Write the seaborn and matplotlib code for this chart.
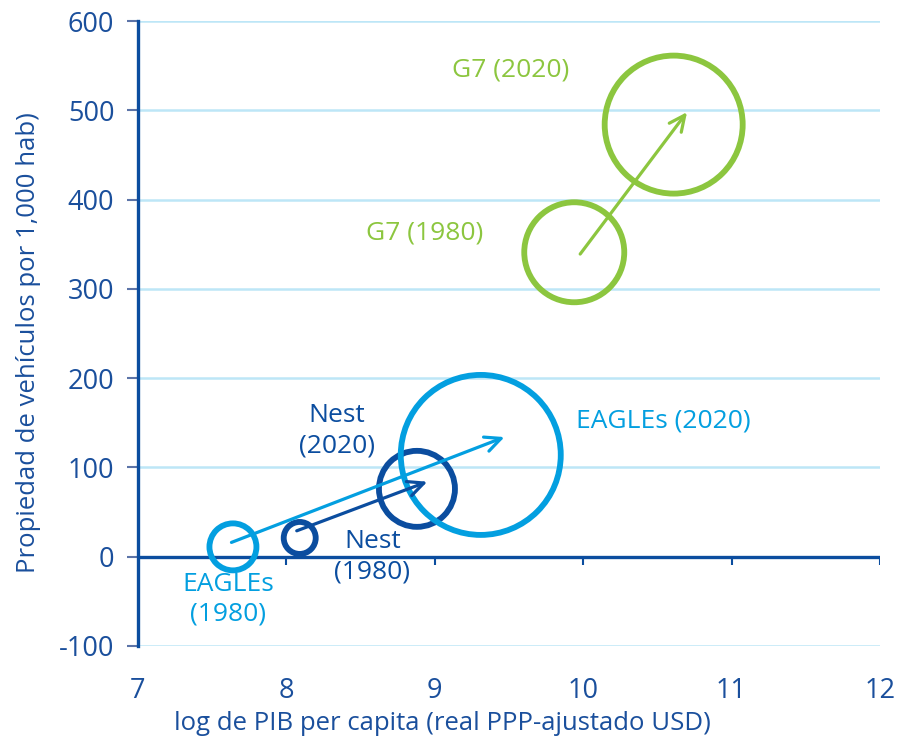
import matplotlib
matplotlib.use("Agg")
import matplotlib.pyplot as plt
import seaborn as sns
import pandas as pd

# ---- data ----
grupos = ["EAGLEs", "Nest", "Nest", "EAGLEs", "G7", "G7"]
anios = ["1980", "1980", "2020", "2020", "1980", "2020"]
log_pib = [7.64, 8.09, 8.88, 9.31, 9.94, 10.61]
vehiculos = [11, 21, 76, 114, 341, 484]
tamano = [552, 256, 1444, 6400, 2500, 4761]

flecha_grupos = ["EAGLEs", "Nest", "G7"]
flecha_x0 = [7.63, 8.07, 9.98]
flecha_y0 = [16, 29, 339]
flecha_x1 = [9.47, 8.95, 10.70]
flecha_y1 = [134, 84, 498]

x_ticks = [7, 8, 9, 10, 11, 12]
y_ticks = [-100, 0, 100, 200, 300, 400, 500, 600]

colores = {"EAGLEs": "#039fe0", "Nest": "#0b4d9f", "G7": "#8cc63f"}
texto_azul = "#1a4f9c"

sns.set_theme(style="white")
plt.rcParams["font.family"] = ["Open Sans", "DejaVu Sans"]

fig = plt.figure(figsize=(8.97, 7.38), dpi=100)
ax = fig.add_axes([0.1538, 0.1247, 0.8272, 0.8468])

df = pd.DataFrame({"grupo": grupos, "anio": anios, "x": log_pib,
                   "y": vehiculos, "t": tamano})

px2 = (2 * 0.72) ** 2
sns.scatterplot(data=df, x="x", y="y", hue="grupo", palette=colores,
                size="t", sizes=(min(tamano) * px2, max(tamano) * px2),
                size_norm=(min(tamano), max(tamano)),
                linewidth=4.2, legend=False, ax=ax, zorder=3)
coll = ax.collections[0]
fc = coll.get_facecolors()
coll.set_edgecolors(fc)
coll.set_facecolor("none")

for g, x0, y0, x1, y1 in zip(flecha_grupos, flecha_x0, flecha_y0, flecha_x1, flecha_y1):
    ax.annotate("", xy=(x1, y1), xytext=(x0, y0),
                arrowprops=dict(arrowstyle="->,head_length=0.95,head_width=0.45",
                                color=colores[g], lw=2.3, shrinkA=0, shrinkB=0),
                zorder=4)

# labels
etiquetas = [
    ("G7 (2020)", 9.51, 545, "G7"),
    ("G7 (1980)", 8.93, 363, "G7"),
    ("EAGLEs (2020)", 10.54, 152, "EAGLEs"),
    ("Nest\n(2020)", 8.34, 141, "Nest"),
    ("Nest\n(1980)", 8.58, 0, "Nest"),
    ("EAGLEs\n(1980)", 7.61, -48, "EAGLEs"),
]
for t, x, y, g in etiquetas:
    ax.text(x, y, t, ha="center", va="center", fontsize=19, color=colores[g],
            linespacing=1.25, zorder=5)

ax.set_xlim(7, 12)
ax.set_ylim(-100, 600)
ax.set_xticks(x_ticks)
ax.set_yticks(y_ticks)
ax.set_xticklabels([str(v) for v in x_ticks])
ax.set_yticklabels([str(v) for v in y_ticks])

for v in y_ticks:
    if v != 0:
        ax.axhline(v, color="#bde6f7", lw=1.8, zorder=1)
ax.axhline(0, color="#0b4d9f", lw=2.4, zorder=2)
ax.vlines(x_ticks[1:], -9, 0, color="#0b4d9f", lw=1.5, zorder=2)

for s in ["top", "right", "bottom"]:
    ax.spines[s].set_visible(False)
ax.spines["left"].set_color("#0b4d9f")
ax.spines["left"].set_linewidth(2.4)
ax.spines["left"].set_zorder(2)

ax.tick_params(axis="y", length=8, width=1.5, color="#5c74a8", labelsize=19.5,
               labelcolor=texto_azul, pad=9, left=True)
ax.tick_params(axis="x", length=0, labelsize=19.5, labelcolor=texto_azul, pad=22)

ax.set_xlabel("log de PIB per capita (real PPP-ajustado USD)", fontsize=18.5,
              color=texto_azul, labelpad=6)
ax.xaxis.set_label_coords(0.411, -0.104)
ax.set_ylabel("Propiedad de vehículos por 1,000 hab)", fontsize=18.5,
              color=texto_azul, labelpad=8)
ax.yaxis.set_label_coords(-0.13, 0.486)

fig.savefig("out.png", dpi=100)
